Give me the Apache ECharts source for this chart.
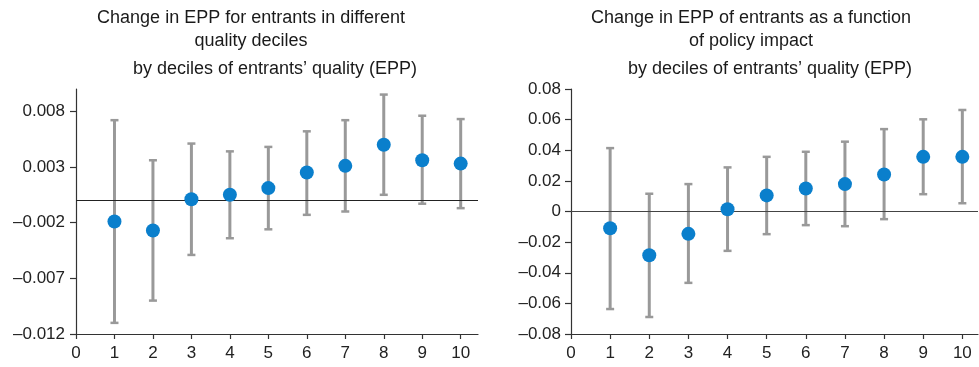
<!DOCTYPE html>
<html><head><meta charset="utf-8">
<script src="https://cdn.jsdelivr.net/npm/echarts@6/dist/echarts.min.js"></script>
<style>html,body{margin:0;padding:0;background:#fff}#c{width:979px;height:367px}</style>
</head><body><div id="c"></div>
<script>
var deciles = [1,2,3,4,5,6,7,8,9,10];
var xTicks = [0,1,2,3,4,5,6,7,8,9,10];
// Left panel
var leftPoint = [-0.0019,-0.0027,0.0001,0.0005,0.0011,0.0025,0.0031,0.0050,0.0036,0.0033];
var leftHigh  = [0.0072,0.0036,0.0051,0.0044,0.0048,0.0062,0.0072,0.0095,0.0076,0.0073];
var leftLow   = [-0.0110,-0.0090,-0.0049,-0.0034,-0.0026,-0.0013,-0.0010,0.0005,-0.0003,-0.0007];
var leftYTicks = [-0.012,-0.007,-0.002,0.003,0.008];
// Right panel
var rightPoint = [-0.0109,-0.0286,-0.0146,0.0015,0.0105,0.0150,0.0179,0.0242,0.0357,0.0357];
var rightHigh  = [0.0414,0.0116,0.0179,0.0288,0.0357,0.0390,0.0456,0.0538,0.0602,0.0663];
var rightLow   = [-0.0637,-0.0689,-0.0466,-0.0257,-0.0148,-0.0089,-0.0096,-0.0050,0.0113,0.0054];
var rightYTicks = [-0.08,-0.06,-0.04,-0.02,0,0.02,0.04,0.06,0.08];

var FONT = '"Liberation Sans", Arial, sans-serif';
function fmtL(v){ return (v<0?'\u2013':'') + Math.abs(v).toFixed(3); }
function fmtR(v){ if (Math.abs(v)<1e-9) return '0'; return (v<0?'\u2013':'') + Math.abs(v).toFixed(2); }

function errData(low, high){ return deciles.map(function(d,i){ return [d, low[i], high[i]]; }); }
function ptData(p){ return deciles.map(function(d,i){ return [d, p[i]]; }); }

function renderErr(params, api){
  var x = api.value(0);
  var lo = api.coord([x, api.value(1)]);
  var hi = api.coord([x, api.value(2)]);
  var cw = 4;
  return {type:'group', children:[
    {type:'line', shape:{x1:lo[0],y1:lo[1],x2:hi[0],y2:hi[1]}, style:{stroke:'#999999', lineWidth:3}},
    {type:'line', shape:{x1:lo[0]-cw,y1:lo[1],x2:lo[0]+cw,y2:lo[1]}, style:{stroke:'#999999',lineWidth:2.5}},
    {type:'line', shape:{x1:hi[0]-cw,y1:hi[1],x2:hi[0]+cw,y2:hi[1]}, style:{stroke:'#999999',lineWidth:2.5}}
  ]};
}

function xAxis(gi, max){
  return {type:'value', gridIndex:gi, min:0, max:max, interval:1,
    axisLine:{show:true, onZero:false, lineStyle:{color:'#333', width:1.2}},
    axisTick:{show:true, length:5, inside:false, lineStyle:{color:'#333', width:1.2}, customValues:xTicks},
    axisLabel:{color:'#222', fontSize:17, fontFamily:FONT, margin:11, customValues:xTicks},
    splitLine:{show:false}};
}
function yAxis(gi, min, max, ticks, f, margin){
  return {type:'value', gridIndex:gi, min:min, max:max,
    axisLine:{show:true, onZero:false, lineStyle:{color:'#333', width:1.2}},
    axisTick:{show:true, length:6, inside:false, lineStyle:{color:'#333', width:1.2}, customValues:ticks},
    axisLabel:{color:'#222', fontSize:17, fontFamily:FONT, margin:margin, formatter:f, customValues:ticks},
    splitLine:{show:false}};
}
function titleMain(t, x){
  return {text:t, left:x, top:2, textAlign:'center',
    textStyle:{fontFamily:FONT, fontSize:18, fontWeight:'normal', color:'#1a1a1a', lineHeight:23}};
}
function titleSub(t, x){
  return {text:t, left:x, top:54, textAlign:'center',
    textStyle:{fontFamily:FONT, fontSize:18, fontWeight:'normal', color:'#1a1a1a', lineHeight:20}};
}

var chart = echarts.init(document.getElementById('c'), null, {renderer:'canvas'});
chart.setOption({
  animation:false,
  backgroundColor:'#fff',
  title:[
    titleMain('Change in EPP for entrants in different\nquality deciles', 246),
    titleSub('by deciles of entrants\u2019 quality (EPP)', 270),
    titleMain('Change in EPP of entrants as a function\nof policy impact', 746),
    titleSub('by deciles of entrants\u2019 quality (EPP)', 765)
  ],
  grid:[
    {left:76, top:89, width:402, height:245},
    {left:571, top:89, width:407, height:245}
  ],
  xAxis:[xAxis(0,10.45), xAxis(1,10.4)],
  yAxis:[yAxis(0,-0.012,0.010,leftYTicks,fmtL,11), yAxis(1,-0.08,0.08,rightYTicks,fmtR,10)],
  series:[
    {type:'custom', xAxisIndex:0, yAxisIndex:0, renderItem:renderErr, data:errData(leftLow,leftHigh), z:2,
     markLine:{silent:true, symbol:'none', label:{show:false}, lineStyle:{color:'#222', width:1.2, type:'solid'}, data:[{yAxis:0}]}},
    {type:'scatter', xAxisIndex:0, yAxisIndex:0, data:ptData(leftPoint), symbolSize:14, itemStyle:{color:'#0a7fcc', opacity:1}, z:5},
    {type:'custom', xAxisIndex:1, yAxisIndex:1, renderItem:renderErr, data:errData(rightLow,rightHigh), z:2,
     markLine:{silent:true, symbol:'none', label:{show:false}, lineStyle:{color:'#444', width:1.2, type:'solid'}, data:[{yAxis:0}]}},
    {type:'scatter', xAxisIndex:1, yAxisIndex:1, data:ptData(rightPoint), symbolSize:14, itemStyle:{color:'#0a7fcc', opacity:1}, z:5}
  ]
});
</script></body></html>
